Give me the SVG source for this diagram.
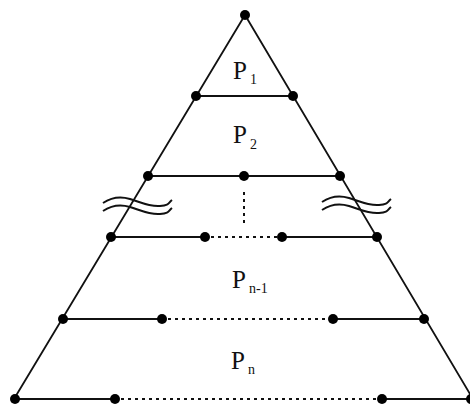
<svg xmlns="http://www.w3.org/2000/svg" width="470" height="406" viewBox="0 0 470 406">
<style>
.ln{stroke:#111;stroke-width:1.8;fill:none;stroke-linecap:round}
.dt{stroke:#111;stroke-width:2;fill:none;stroke-dasharray:3 4}
.wv{stroke:#111;stroke-width:2;fill:none}
.dot{fill:#000}
.lbl{font-family:"Liberation Serif","Times New Roman",serif;font-size:25px;fill:#111}
.sub{font-family:"Liberation Serif","Times New Roman",serif;font-size:14px;fill:#111}
</style>
<rect width="470" height="406" fill="#fff"/>
<g id="connectors">
<path class="ln" d="M245,15 L14,399 M245,15 L473,399"/>
<path class="ln" d="M196,96 L293,96"/>
<path class="ln" d="M148,176 L340,176"/>
<path class="ln" d="M111,237 L205,237 M282,237 L377,237"/>
<path class="dt" d="M211,237 L278,237"/>
<path class="ln" d="M62,319 L162,319 M333,319 L425,319"/>
<path class="dt" d="M168,319 L328,319"/>
<path class="ln" d="M14,399 L115,399 M382,399 L473,399"/>
<path class="dt" d="M121,399 L377,399"/>
<path class="dt" d="M244,192 L244,223"/>
</g>
<g id="breaks">
<path class="wv" d="M103,203 C112,197 120,196 130,199 S150,207 160,206 S168,203 172,200"/>
<path class="wv" d="M103,211 C112,205 120,204 130,207 S150,215 160,214 S168,211 172,208"/>
<path class="wv" d="M322,202 C331,196 339,195 349,198 S369,206 379,205 S387,202 391,199"/>
<path class="wv" d="M322,210 C331,204 339,203 349,206 S369,214 379,213 S387,210 391,207"/>
</g>
<g id="nodes">
<g id="n-apex"><circle class="dot" cx="245" cy="15" r="5"/></g>
<g id="n-1l"><circle class="dot" cx="196" cy="96" r="5"/></g>
<g id="n-1r"><circle class="dot" cx="293" cy="96" r="5"/></g>
<g id="n-2l"><circle class="dot" cx="148" cy="176" r="5"/></g>
<g id="n-2m"><circle class="dot" cx="244" cy="176" r="5"/></g>
<g id="n-2r"><circle class="dot" cx="340" cy="176" r="5"/></g>
<g id="n-3l"><circle class="dot" cx="111" cy="237" r="5"/></g>
<g id="n-3a"><circle class="dot" cx="205" cy="237" r="5"/></g>
<g id="n-3b"><circle class="dot" cx="282" cy="237" r="5"/></g>
<g id="n-3r"><circle class="dot" cx="377" cy="237" r="5"/></g>
<g id="n-4l"><circle class="dot" cx="63" cy="319" r="5"/></g>
<g id="n-4a"><circle class="dot" cx="162" cy="319" r="5"/></g>
<g id="n-4b"><circle class="dot" cx="333" cy="319" r="5"/></g>
<g id="n-4r"><circle class="dot" cx="424" cy="319" r="5"/></g>
<g id="n-5l"><circle class="dot" cx="15" cy="399" r="5"/></g>
<g id="n-5a"><circle class="dot" cx="115" cy="399" r="5"/></g>
<g id="n-5b"><circle class="dot" cx="382" cy="399" r="5"/></g>
<g id="n-5r"><circle class="dot" cx="471" cy="399" r="5"/></g>
</g>
<g id="labels">
<g id="p1"><text class="lbl" x="233" y="79">P</text><text class="sub" x="250" y="84">1</text></g>
<g id="p2"><text class="lbl" x="233" y="143">P</text><text class="sub" x="250" y="149">2</text></g>
<g id="pn1"><text class="lbl" x="232" y="288">P</text><text class="sub" x="249" y="293">n-1</text></g>
<g id="pn"><text class="lbl" x="231" y="369">P</text><text class="sub" x="248" y="374">n</text></g>
</g>
</svg>
